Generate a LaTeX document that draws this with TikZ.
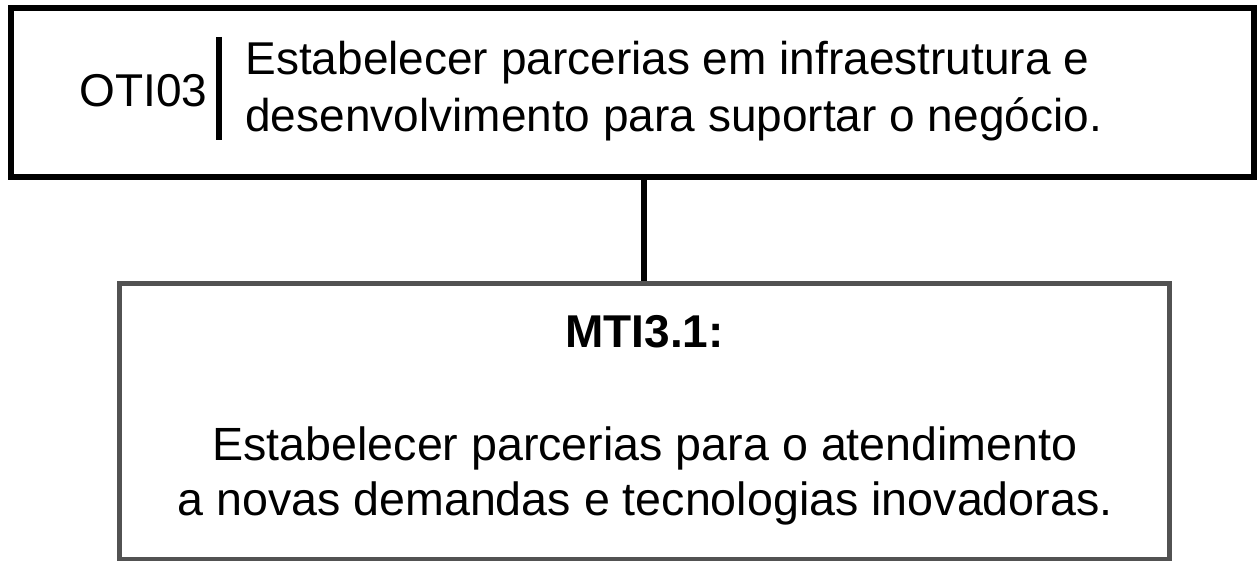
\documentclass[tikz,border=0pt]{standalone}
\usepackage{fontspec}
\setmainfont{Liberation Sans}
\usetikzlibrary{positioning}

\tikzset{
  objbox/.style={draw=black, line width=3pt, minimum width=621.5pt, minimum height=84.5pt, inner sep=0pt},
  metabox/.style={draw=black!68, line width=2.5pt, minimum width=525pt, minimum height=137.75pt, inner sep=0pt},
  boxtext/.style={inner sep=0pt, font=\fontsize{23}{28.5}\selectfont}
}

\begin{document}
\begin{tikzpicture}[x=0.5pt,y=-0.5pt]
  \useasboundingbox (0,0) rectangle (1258,561);

  % OTI03
  \node[objbox] (obj) at (632.5,92.5) {};
  \node[boxtext, anchor=base west] (objcode) at (79,107) {OTI03};
  \coordinate (S1) at (219,37);
  \coordinate (S2) at (219,140);
  \draw[line width=3pt] (S1) -- (S2);
  \node[boxtext, anchor=base west, align=left] (objtext) at (245,132)
    {Estabelecer parcerias em infraestrutura e\\desenvolvimento para suportar o negócio.};

  % MTI3.1
  \node[metabox] (meta) at (644,421.75) {};
  \node[boxtext, anchor=base, font=\fontsize{23}{28.5}\selectfont\bfseries] (metacode) at (644.5,347) {MTI3.1:};
  \node[boxtext, anchor=base, align=center, font=\fontsize{23.3}{27.5}\selectfont] (metatext) at (645,515)
    {Estabelecer parcerias para o atendimento\\a novas demandas e tecnologias inovadoras.};

  \draw[line width=3pt] (obj.south -| meta.north) -- (meta.north);
\end{tikzpicture}
\end{document}
